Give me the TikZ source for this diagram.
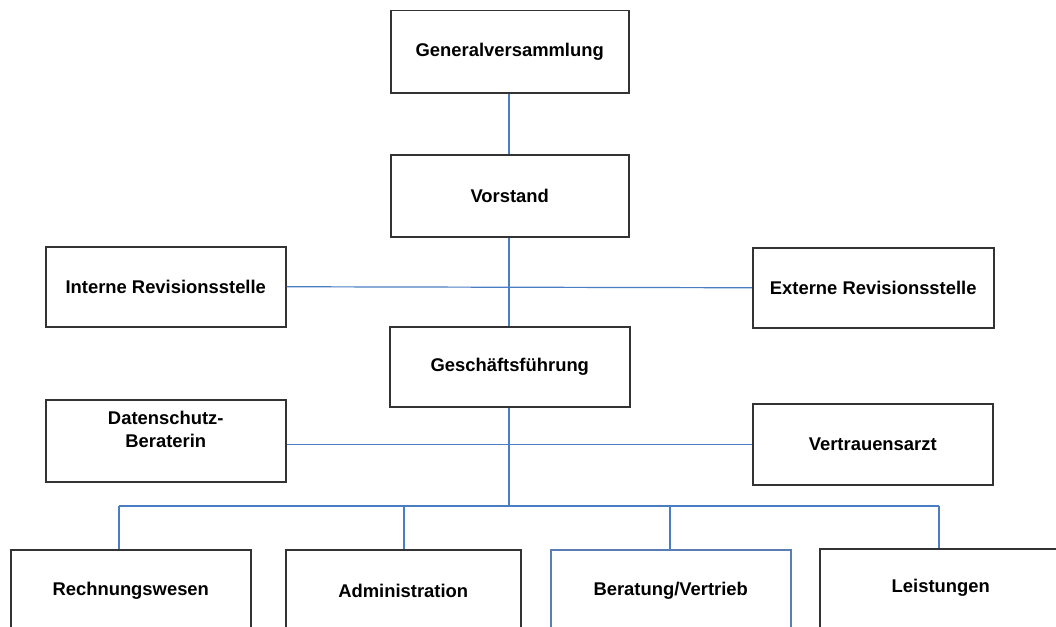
\documentclass[tikz,border=0pt]{standalone}
\usepackage{fontspec}
\setmainfont{Liberation Sans}
\definecolor{linkblue}{HTML}{4A7EC4}
\definecolor{boxgray}{HTML}{333333}
\definecolor{boxblue}{HTML}{5B7DB5}
\begin{document}
\begin{tikzpicture}[x=1pt,y=-1pt,
  orgbox/.style={draw=boxgray,line width=1.5pt,rectangle,anchor=north west,inner sep=0pt,
    font=\fontsize{18.4}{23}\selectfont\bfseries,align=center},
  link/.style={draw=linkblue,line width=1.2pt}]
\useasboundingbox (0,0) rectangle (1056,626);
\clip (0,0) rectangle (1056,626);
\fill[white] (0,0) rectangle (1056,626);
% boxes
\node[orgbox,minimum width=238pt,minimum height=82pt] (gv) at (390,10) {Generalversammlung};
\node[orgbox,minimum width=238pt,minimum height=82pt] (vs) at (390,154) {Vorstand};
\node[orgbox,minimum width=240pt,minimum height=80pt] (ir) at (45,246) {Interne Revisionsstelle};
\node[orgbox,minimum width=241pt,minimum height=80pt] (er) at (752,247) {Externe Revisionsstelle};
\node[orgbox,minimum width=240pt,minimum height=80pt] (gf) at (389,326) {Geschäftsführung};
\node[orgbox,minimum width=240pt,minimum height=82pt,
  label={[font=\fontsize{18.4}{23}\selectfont\bfseries,align=center,yshift=11pt]center:Datenschutz-\\Beraterin}] (ds) at (45,399) {};
\node[orgbox,minimum width=240pt,minimum height=81pt] (va) at (752,403) {Vertrauensarzt};
\node[orgbox,minimum width=240pt,minimum height=82pt] (rw) at (10,549) {Rechnungswesen};
\node[orgbox,minimum width=235pt,minimum height=82pt] (ad) at (285,549) {Administration};
\node[orgbox,draw=boxblue,minimum width=240pt,minimum height=82pt] (bv) at (550,549) {Beratung/Vertrieb};
\node[orgbox,minimum width=242pt,minimum height=82pt,
  label={[font=\fontsize{18.4}{23}\selectfont\bfseries,yshift=2pt]center:Leistungen}] (le) at (819,548) {};
% bus coordinates
\coordinate (b0) at (509,506);
\coordinate (b1) at (119,506);
\coordinate (b2) at (404,506);
\coordinate (b3) at (670,506);
\coordinate (b4) at (939,506);
% connectors
\draw[link] (gv.south -| b0) -- (vs.north -| b0);
\draw[link] (vs.south -| b0) -- (gf.north -| b0);
\draw[link] (ir.east) -- (er.west);
\draw[link] (gf.south -| b0) -- (b0);
\draw[link] (ds.east) ++(0,4) coordinate (dse) -- (va.west |- dse);
\draw[link] (b1) -- (b4);
\draw[link] (b1) -- (b1 |- rw.north);
\draw[link] (b2) -- (b2 |- ad.north);
\draw[link] (b3) -- (b3 |- bv.north);
\draw[link] (b4) -- (b4 |- le.north);
\end{tikzpicture}
\end{document}
